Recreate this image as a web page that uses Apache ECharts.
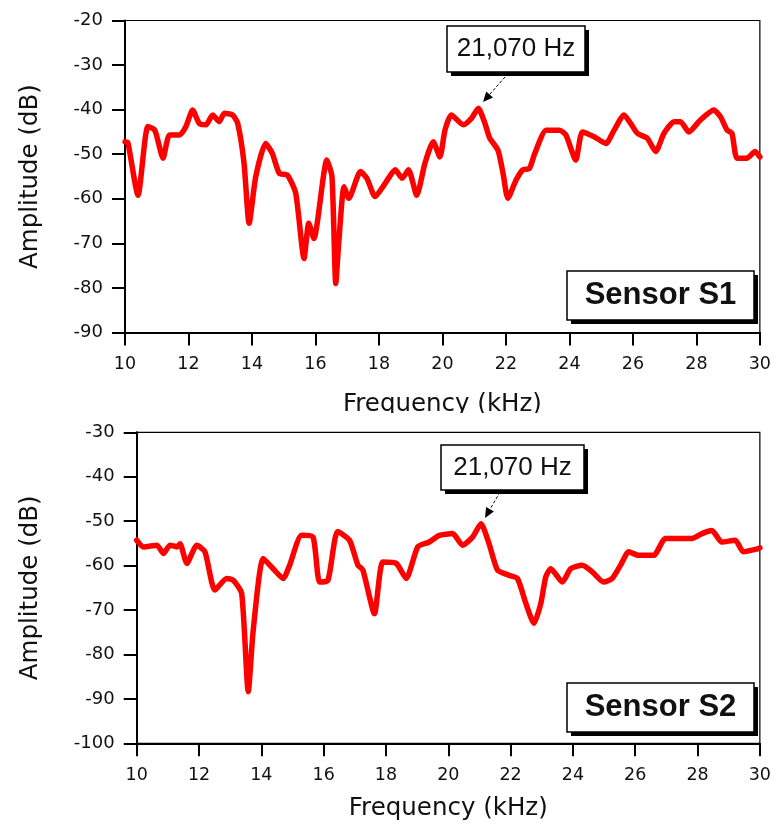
<!DOCTYPE html>
<html>
<head>
<meta charset="utf-8">
<script src="https://cdn.jsdelivr.net/npm/echarts@6/dist/echarts.min.js"></script>
<style>
  html, body { margin: 0; padding: 0; background: #fff; }
  #chart { width: 774px; height: 830px; }
</style>
</head>
<body>
<div id="chart"></div>
<script>
// ---- Data ----
var freqS1 = [10.00, 10.09, 10.41, 10.72, 10.94, 11.20, 11.40, 11.72, 11.92, 12.13, 12.34, 12.55, 12.76, 12.97, 13.13, 13.39, 13.55, 13.75, 13.91, 14.12, 14.43, 14.64, 14.86, 15.12, 15.38, 15.64, 15.79, 15.95, 16.36, 16.52, 16.64, 16.74, 16.90, 17.05, 17.42, 17.62, 17.88, 18.20, 18.51, 18.73, 18.93, 19.19, 19.45, 19.71, 19.92, 20.08, 20.28, 20.66, 20.92, 21.13, 21.34, 21.49, 21.75, 21.91, 22.06, 22.32, 22.53, 22.74, 22.91, 23.27, 23.69, 23.89, 24.20, 24.41, 24.78, 25.15, 25.41, 25.72, 25.93, 26.14, 26.45, 26.72, 26.98, 27.30, 27.50, 27.76, 28.13, 28.55, 28.76, 28.97, 29.12, 29.28, 29.59, 29.85, 30.00];
var ampS1  = [-47.2, -47.4, -59.2, -43.8, -44.6, -50.9, -45.7, -45.7, -43.8, -40.1, -43.1, -43.4, -41.2, -42.7, -40.8, -41.2, -43.1, -52.0, -65.5, -55.0, -47.6, -49.8, -54.3, -54.7, -58.8, -73.4, -65.5, -68.9, -51.3, -55.0, -79.0, -69.2, -57.3, -59.9, -53.9, -55.4, -59.5, -56.5, -53.5, -55.4, -53.5, -59.2, -52.0, -47.2, -50.6, -44.6, -41.2, -43.4, -41.9, -39.7, -43.1, -46.4, -49.1, -54.3, -59.9, -55.8, -53.5, -53.2, -49.8, -44.6, -44.6, -45.7, -51.3, -45.0, -46.1, -47.6, -44.6, -41.2, -43.1, -45.3, -46.4, -49.4, -45.3, -42.7, -42.7, -45.0, -42.3, -40.1, -41.6, -44.6, -45.3, -50.9, -50.9, -49.4, -50.6];

var freqS2 = [10.00, 10.22, 10.65, 10.86, 11.07, 11.29, 11.39, 11.61, 11.93, 12.19, 12.51, 12.89, 13.10, 13.37, 13.58, 13.74, 14.06, 14.38, 14.70, 14.91, 15.29, 15.66, 15.87, 16.14, 16.45, 16.83, 17.10, 17.26, 17.63, 17.90, 18.33, 18.65, 19.02, 19.39, 19.71, 20.14, 20.46, 20.78, 21.05, 21.31, 21.58, 21.95, 22.22, 22.49, 22.75, 22.97, 23.13, 23.29, 23.66, 23.93, 24.30, 24.62, 24.99, 25.26, 25.53, 25.79, 26.11, 26.59, 26.97, 27.39, 27.82, 28.14, 28.46, 28.78, 29.21, 29.47, 29.95, 30.00];
var ampS2  = [-54.3, -55.8, -55.4, -57.3, -55.4, -55.8, -55.1, -59.5, -55.4, -56.9, -65.5, -62.9, -63.3, -66.3, -88.4, -74.5, -58.4, -60.7, -62.9, -59.9, -53.2, -53.6, -63.7, -63.3, -52.3, -54.3, -59.9, -61.0, -70.8, -59.2, -59.5, -62.9, -55.8, -54.7, -53.2, -52.8, -55.4, -53.6, -50.6, -55.1, -61.0, -62.2, -62.9, -68.5, -73.0, -68.5, -62.5, -60.7, -63.7, -60.7, -59.9, -61.4, -63.7, -62.9, -59.9, -56.9, -57.7, -57.7, -53.9, -53.9, -53.9, -52.8, -52.1, -54.7, -54.3, -56.9, -56.2, -56.0];

var freqTicks = [10, 12, 14, 16, 18, 20, 22, 24, 26, 28, 30];
var ampTicksS1 = [-90, -80, -70, -60, -50, -40, -30, -20];
var ampTicksS2 = [-100, -90, -80, -70, -60, -50, -40, -30];

var peakLabel = '21,070 Hz';
var sensorLabels = ['Sensor S1', 'Sensor S2'];
var xTitle = 'Frequency (kHz)';
var yTitle = 'Amplitude (dB)';

// ---- Chart ----
var chart = echarts.init(document.getElementById('chart'), null, { renderer: 'canvas' });

function pairs(xs, ys) { return xs.map(function (x, i) { return [x, ys[i]]; }); }

var yTickFont = { fontFamily: 'DejaVu Sans', fontSize: 18, color: '#111' };
var xTickFont = { fontFamily: 'DejaVu Sans', fontSize: 17.5, color: '#111' };
var nameFont = { fontFamily: 'DejaVu Sans', fontSize: 24.5, color: '#111' };

function xAxisDef(gridIndex, gap) {
  return {
    type: 'value', gridIndex: gridIndex,
    min: freqTicks[0], max: freqTicks[freqTicks.length - 1],
    interval: freqTicks[1] - freqTicks[0],
    name: xTitle, nameLocation: 'middle', nameGap: gap,
    nameTextStyle: nameFont,
    axisLine: { show: true, onZero: false, lineStyle: { color: '#000', width: 2 } },
    axisTick: { show: true, inside: false, length: 13, lineStyle: { color: '#000', width: 2 } },
    axisLabel: Object.assign({ margin: 23 }, xTickFont),
    splitLine: { show: false }
  };
}
function yAxisDef(gridIndex, ticks, gap) {
  return {
    type: 'value', gridIndex: gridIndex,
    min: ticks[0], max: ticks[ticks.length - 1],
    interval: ticks[1] - ticks[0],
    name: yTitle, nameLocation: 'middle', nameGap: gap, nameRotate: 90,
    nameTextStyle: nameFont,
    axisLine: { show: true, onZero: false, lineStyle: { color: '#000', width: 2 } },
    axisTick: { show: true, inside: false, length: 13, lineStyle: { color: '#000', width: 2 } },
    axisLabel: Object.assign({ margin: 22 }, yTickFont),
    splitLine: { show: false }
  };
}

function arrow(x1, y1, x2, y2) {
  var ang = Math.atan2(y2 - y1, x2 - x1);
  var L = 10, W = 4.5;
  var bx = x2 - L * Math.cos(ang), by = y2 - L * Math.sin(ang);
  var px = -Math.sin(ang), py = Math.cos(ang);
  return [
    { type: 'line', z: 20, shape: { x1: x1, y1: y1, x2: bx, y2: by },
      style: { stroke: '#000', lineWidth: 1, lineDash: [3, 2] } },
    { type: 'polygon', z: 20, shape: { points: [[x2, y2], [bx + px * W, by + py * W], [bx - px * W, by - py * W]] },
      style: { fill: '#000' } }
  ];
}

function box(x, y, w, h, text, font, weight, size) {
  return [
    { type: 'rect', z: 18, shape: { x: x + 4, y: y + 4, width: w, height: h }, style: { fill: '#000' } },
    { type: 'rect', z: 19, shape: { x: x, y: y, width: w, height: h }, style: { fill: '#fff', stroke: '#000', lineWidth: 1.5 } },
    { type: 'text', z: 20, x: x + w / 2, y: y + h / 2,
      style: { text: text, fontFamily: font, fontWeight: weight, fontSize: size, fill: '#111', align: 'center', verticalAlign: 'middle' } }
  ];
}

var graphics = []
  .concat([{ type: 'rect', z: 30, shape: { x: 250, y: 413, width: 400, height: 14 }, style: { fill: '#fff' } }])
  .concat(box(447, 26, 138, 46, peakLabel, 'Liberation Sans', 'normal', 26))
  .concat(arrow(505, 77, 483, 102))
  .concat(box(441, 445, 143, 45, peakLabel, 'Liberation Sans', 'normal', 26))
  .concat(arrow(500, 492, 485, 518))
  .concat(box(567, 271, 187, 49, sensorLabels[0], 'Liberation Sans', 'bold', 31))
  .concat(box(567, 683, 187, 49, sensorLabels[1], 'Liberation Sans', 'bold', 31));

var option = {
  backgroundColor: '#fff',
  animation: false,
  grid: [
    { left: 125, top: 20.5, width: 637.5, height: 312, show: true, borderColor: '#000', borderWidth: 1.2, backgroundColor: 'transparent', containLabel: false },
    { left: 136.7, top: 432.3, width: 624, height: 311, show: true, borderColor: '#000', borderWidth: 1.2, backgroundColor: 'transparent', containLabel: false }
  ],
  xAxis: [ xAxisDef(0, 60), xAxisDef(1, 53) ],
  yAxis: [ yAxisDef(0, ampTicksS1, 82), yAxisDef(1, ampTicksS2, 94) ],
  series: [
    { type: 'line', xAxisIndex: 0, yAxisIndex: 0, data: pairs(freqS1, ampS1), showSymbol: false, smooth: 0.2,
      lineStyle: { color: '#ff0000', width: 5.5, join: 'round', cap: 'round' }, z: 5 },
    { type: 'line', xAxisIndex: 1, yAxisIndex: 1, data: pairs(freqS2, ampS2), showSymbol: false, smooth: 0.2,
      lineStyle: { color: '#ff0000', width: 5.5, join: 'round', cap: 'round' }, z: 5 }
  ],
  graphic: graphics
};
chart.setOption(option);
</script>
</body>
</html>
